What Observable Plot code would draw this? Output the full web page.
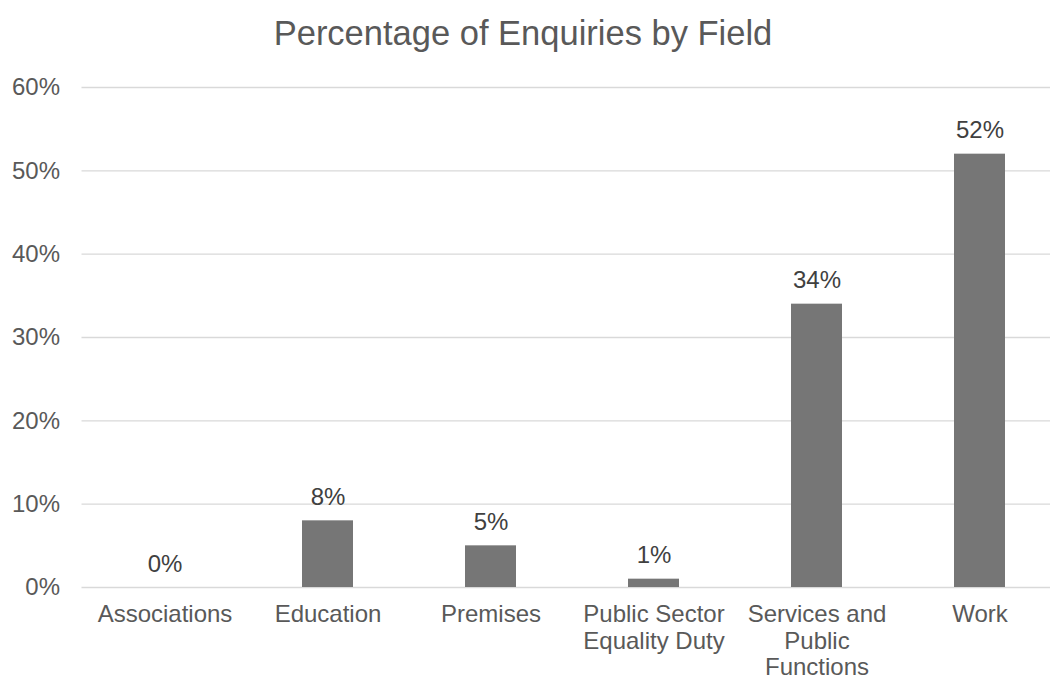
<!DOCTYPE html>
<html>
<head>
<meta charset="utf-8">
<script src="https://cdn.jsdelivr.net/npm/d3@7"></script>
<script src="https://cdn.jsdelivr.net/npm/@observablehq/plot@0.6"></script>
<style>
  html, body { margin: 0; padding: 0; background: #fff; overflow: hidden; }
  #title {
    width: 1050px; height: 60px; box-sizing: border-box;
    padding-top: 13px; padding-right: 4px;
    font-family: "Liberation Sans", Arial, sans-serif;
    font-size: 34.5px; line-height: 40px; color: #595959;
    text-align: center; white-space: nowrap;
  }
  svg { display: block; }
</style>
</head>
<body>
<div id="title">Percentage of Enquiries by Field</div>
<div id="chart"></div>
<script>
const categories = ["Associations", "Education", "Premises", "Public Sector Equality Duty", "Services and Public Functions", "Work"];
const axisLabels = ["Associations", "Education", "Premises", "Public Sector\nEquality Duty", "Services and\nPublic\nFunctions", "Work"];
const values = [0, 8, 5, 1, 34, 52];
const yTicks = [0, 10, 20, 30, 40, 50, 60];

const data = categories.map((c, i) => ({category: c, value: values[i]}));
const labelOf = new Map(categories.map((c, i) => [c, axisLabels[i]]));

const chart = Plot.plot({
  width: 1050,
  height: 619,
  marginLeft: 81.5,
  marginRight: 0,
  marginTop: 27,
  marginBottom: 92,
  style: {fontFamily: "'Liberation Sans', Arial, sans-serif", background: "#fff"},
  x: {domain: categories, range: [81.5, 1063], paddingInner: 0.69, paddingOuter: 0.345, label: null},
  y: {domain: [0, 60], label: null},
  marks: [
    Plot.ruleY(yTicks, {stroke: "#d9d9d9", strokeWidth: 1.3}),
    Plot.barY(data, {x: "category", y: "value", fill: "#767676"}),
    Plot.text(data, {x: "category", y: "value", text: d => d.value + "%", dy: -16, lineAnchor: "bottom", fontSize: 24, fill: "#404040"}),
    Plot.axisY({ticks: yTicks, tickFormat: d => d + "%", tickSize: 0, tickPadding: 22, fontSize: 24, fill: "#595959", label: null}),
    Plot.axisX({tickFormat: c => labelOf.get(c), tickSize: 0, tickPadding: 16, fontSize: 24, lineHeight: 1.1, fill: "#595959", label: null})
  ]
});
document.getElementById("chart").appendChild(chart);
</script>
</body>
</html>
